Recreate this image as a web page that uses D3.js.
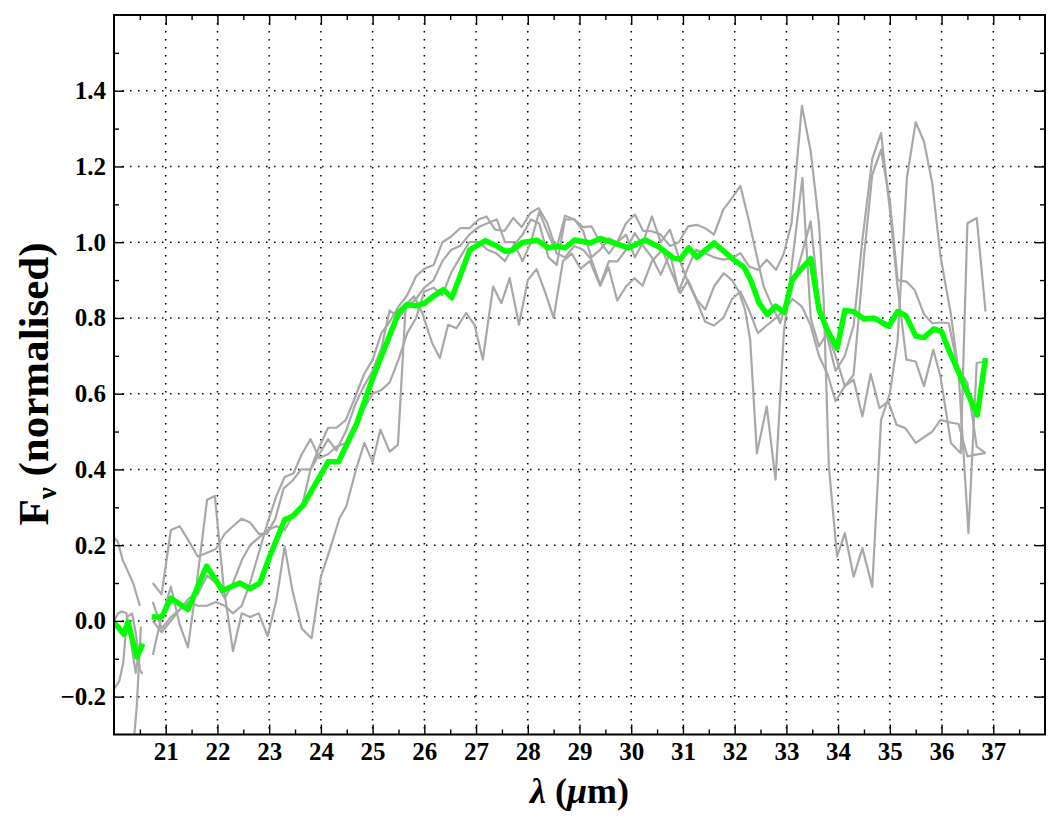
<!DOCTYPE html>
<html lang="en">
<head>
<meta charset="utf-8">
<title>Normalised spectra</title>
<script src="https://cdn.jsdelivr.net/npm/d3@7"></script>
<style>
  body { margin: 0; background: #fff; }
  text { font-family: "Liberation Serif", "DejaVu Serif", serif; font-weight: bold; fill: #000; }
</style>
</head>
<body>
<svg width="1060" height="827"></svg>
<script>
// tick positions
const xMajor = d3.range(21, 38);
const xMinor = d3.range(20.5, 38, 1);
const yMajor = [-0.2, 0, 0.2, 0.4, 0.6, 0.8, 1.0, 1.2, 1.4];
const yMinor = [-0.1, 0.1, 0.3, 0.5, 0.7, 0.9, 1.1, 1.3, 1.5];

// individual spectra [wavelength, flux]; null marks the gap in coverage
const spec1 = [[20.0,0.22],[20.07,0.21],[20.17,0.16],[20.27,0.13],[20.37,0.10],[20.5,0.04],[20.65,null],
  [20.75,0.10],[20.92,0.07],[21.1,0.24],[21.27,0.25],[21.45,0.21],[21.62,0.17],[21.8,0.18],[21.97,0.19],[22.14,0.23],[22.3,0.25],[22.47,0.27],[22.63,0.26],[22.8,0.23],[22.96,0.23],[23.12,0.27],[23.28,0.35],[23.45,0.37],[23.62,0.40],[23.8,0.40],[23.97,0.46],[24.14,0.51],[24.3,0.51],[24.48,0.53],[24.66,0.59],[24.83,0.65],[25.0,0.69],[25.17,0.76],[25.33,0.79],[25.5,0.83],[25.67,0.86],[25.84,0.91],[26.0,0.93],[26.18,0.94],[26.35,1.0],[26.52,1.015],[26.69,1.037],[26.87,1.037],[27.05,1.06],[27.2,1.068],[27.37,1.033],[27.55,1.03],[27.72,1.064],[27.88,1.04],[28.05,1.077],[28.21,1.09],[28.38,1.05],[28.55,0.98],[28.72,1.07],[28.9,1.06],[29.07,1.04],[29.23,1.042],[29.4,1.0],[29.57,0.97],[29.73,1.0],[29.9,1.05],[30.07,1.073],[30.23,1.03],[30.4,1.029],[30.57,1.02],[30.75,0.99],[30.92,1.0],[31.1,1.042],[31.27,1.046],[31.43,1.037],[31.6,1.02],[31.78,1.086],[31.95,1.117],[32.11,1.149],[32.27,1.06],[32.4,0.98],[32.56,0.883],[32.73,0.83],[32.88,0.786],[33.05,0.87],[33.22,0.93],[33.47,1.055],[33.63,0.84],[33.79,0.75],[33.95,0.66],[34.13,0.70],[34.3,0.78],[34.47,1.007],[34.66,1.22],[34.83,1.288],[35.0,1.086],[35.15,0.883],[35.32,0.69],[35.5,0.685],[35.66,0.62],[35.84,0.716],[35.98,0.645],[36.18,0.47],[36.37,0.443],[36.5,1.05],[36.68,1.064],[36.85,0.817]];

const spec2 = [[20.0,-0.18],[20.1,-0.16],[20.18,-0.11],[20.25,0.01],[20.35,0.02],[20.43,-0.04],[20.5,-0.13],[20.55,-0.14],[20.65,null],
  [20.75,-0.09],[20.9,0.0],[21.1,0.09],[21.27,-0.01],[21.43,-0.07],[21.6,0.10],[21.8,0.32],[21.95,0.33],[22.12,0.09],[22.3,-0.08],[22.47,0.02],[22.63,0.01],[22.8,0.02],[22.97,-0.04],[23.14,0.055],[23.3,0.196],[23.45,0.08],[23.63,-0.02],[23.82,-0.046],[24.0,0.117],[24.17,0.187],[24.36,0.271],[24.49,0.302],[24.68,0.40],[24.84,0.47],[25.0,0.42],[25.15,0.505],[25.33,0.447],[25.49,0.465],[25.64,0.835],[25.8,0.857],[25.96,0.813],[26.15,0.734],[26.3,0.694],[26.46,0.782],[26.62,0.773],[26.81,0.813],[26.97,0.782],[27.13,0.69],[27.33,0.883],[27.49,0.839],[27.65,0.905],[27.83,0.782],[28.0,0.9],[28.17,0.929],[28.33,0.87],[28.5,0.80],[28.68,0.95],[28.85,0.97],[29.02,0.93],[29.2,0.95],[29.4,0.885],[29.56,0.934],[29.73,0.846],[29.9,0.883],[30.06,0.905],[30.22,0.885],[30.4,0.95],[30.6,0.98],[30.78,0.92],[30.95,0.866],[31.1,0.9],[31.27,0.848],[31.43,0.822],[31.6,0.883],[31.79,0.918],[31.95,0.9],[32.08,0.87],[32.2,0.822],[32.3,0.742],[32.43,0.443],[32.62,0.566],[32.79,0.373],[32.95,0.76],[33.14,0.98],[33.31,1.17],[33.47,0.80],[33.63,0.725],[33.79,0.76],[33.95,0.70],[34.13,0.62],[34.3,0.65],[34.5,0.962],[34.66,1.178],[34.83,1.244],[35.0,1.11],[35.15,0.9],[35.32,0.896],[35.48,0.874],[35.66,0.81],[35.82,0.786],[36.0,0.788],[36.14,0.786],[36.31,0.672],[36.5,0.628],[36.68,0.46],[36.85,0.443]];

const spec3 = [[20.0,0.0],[20.08,0.02],[20.15,0.025],[20.24,0.02],[20.31,-0.04],[20.42,-0.137],[20.5,-0.06],[20.65,null],
  [20.75,0.0],[20.92,-0.03],[21.1,0.0],[21.27,0.03],[21.45,0.06],[21.62,0.07],[21.8,0.12],[21.97,0.10],[22.14,0.06],[22.3,0.10],[22.47,0.16],[22.63,0.20],[22.8,0.22],[22.97,0.24],[23.14,0.25],[23.3,0.24],[23.47,0.28],[23.63,0.30],[23.8,0.40],[23.97,0.44],[24.14,0.48],[24.3,0.45],[24.48,0.50],[24.66,0.57],[24.83,0.62],[25.0,0.66],[25.17,0.72],[25.33,0.82],[25.5,0.80],[25.67,0.83],[25.84,0.85],[26.0,0.88],[26.18,0.90],[26.35,0.95],[26.52,0.98],[26.69,0.99],[26.87,1.02],[27.05,1.04],[27.22,1.05],[27.4,1.06],[27.56,1.00],[27.72,1.00],[27.9,0.95],[28.06,1.0],[28.22,1.08],[28.4,1.02],[28.56,0.97],[28.72,0.96],[28.9,0.99],[29.07,0.98],[29.23,0.954],[29.4,0.888],[29.57,0.95],[29.73,0.949],[29.9,0.98],[30.07,1.024],[30.23,0.99],[30.4,0.96],[30.57,0.914],[30.75,0.97],[30.92,0.87],[31.08,0.927],[31.25,0.98],[31.43,0.971],[31.6,0.96],[31.78,0.954],[31.95,0.958],[32.11,0.971],[32.28,0.936],[32.45,0.927],[32.62,0.954],[32.8,0.927],[32.95,0.97],[33.1,1.05],[33.3,1.36],[33.47,1.24],[33.63,1.05],[33.72,0.85],[33.82,0.41],[33.98,0.17],[34.13,0.232],[34.3,0.117],[34.47,0.192],[34.66,0.09],[34.83,0.53],[35.0,0.60],[35.15,0.74],[35.33,1.17],[35.5,1.317],[35.66,1.266],[35.82,1.156],[35.98,0.962],[36.18,0.81],[36.33,0.654],[36.52,0.232],[36.68,0.681],[36.85,0.685]];

const spec4 = [[20.3,-0.45],[20.44,-0.226],[20.52,-0.015],[20.65,null],
  [20.75,0.05],[20.92,-0.02],[21.1,0.01],[21.27,0.03],[21.45,0.05],[21.62,0.04],[21.8,0.04],[21.97,0.05],[22.14,0.04],[22.3,0.02],[22.47,0.04],[22.63,0.10],[22.8,0.18],[22.97,0.26],[23.14,0.33],[23.3,0.38],[23.47,0.39],[23.63,0.44],[23.8,0.48],[23.97,0.43],[24.14,0.44],[24.3,0.46],[24.48,0.47],[24.66,0.52],[24.83,0.56],[25.0,0.60],[25.17,0.61],[25.33,0.63],[25.5,0.69],[25.67,0.76],[25.84,0.80],[26.0,0.87],[26.18,0.88],[26.35,0.86],[26.52,0.92],[26.69,0.96],[26.87,1.0],[27.05,1.0],[27.22,0.98],[27.4,0.97],[27.56,0.95],[27.72,0.99],[27.9,1.02],[28.06,1.06],[28.22,1.05],[28.4,0.96],[28.56,0.94],[28.72,1.06],[28.9,1.06],[29.07,1.03],[29.23,0.96],[29.4,0.98],[29.57,1.01],[29.73,1.00],[29.9,1.02],[30.07,0.96],[30.23,1.0],[30.4,1.068],[30.57,1.0],[30.75,1.033],[30.92,0.96],[31.08,0.90],[31.25,0.85],[31.43,0.79],[31.6,0.78],[31.78,0.80],[31.95,0.85],[32.11,0.87],[32.28,0.82],[32.45,0.76],[32.62,0.78],[32.8,0.80],[32.95,0.82],[33.12,0.85],[33.3,0.83],[33.47,0.78],[33.63,0.70],[33.8,0.65],[33.95,0.58],[34.13,0.62],[34.3,0.637],[34.47,0.54],[34.63,0.652],[34.8,0.562],[34.97,0.579],[35.13,0.518],[35.3,0.509],[35.5,0.47],[35.66,0.485],[35.82,0.5],[35.98,0.531],[36.17,0.524],[36.33,0.52],[36.5,0.434],[36.66,0.439],[36.85,0.443]];

// mean spectrum
const meanSpec = [[20.0,-0.005],[20.1,-0.02],[20.19,-0.035],[20.27,-0.003],[20.44,-0.095],[20.56,-0.06],[20.65,null],
  [20.73,0.01],[20.92,0.01],[21.10,0.06],[21.43,0.03],[21.79,0.145],[22.10,0.08],[22.43,0.10],[22.63,0.085],[22.82,0.10],[23.01,0.17],[23.30,0.267],[23.46,0.277],[23.66,0.306],[24.14,0.42],[24.34,0.42],[24.69,0.52],[25.0,0.64],[25.27,0.734],[25.50,0.813],[25.66,0.835],[25.85,0.832],[26.01,0.839],[26.17,0.857],[26.37,0.875],[26.53,0.853],[26.69,0.91],[26.88,0.98],[27.18,1.004],[27.40,0.99],[27.56,0.976],[27.69,0.978],[27.89,0.999],[28.18,1.005],[28.40,0.985],[28.56,0.99],[28.72,0.985],[28.91,1.006],[29.21,0.998],[29.40,1.01],[29.66,0.998],[29.95,0.985],[30.27,1.006],[30.53,0.988],[30.82,0.958],[30.95,0.955],[31.11,0.985],[31.27,0.96],[31.60,0.998],[31.98,0.954],[32.18,0.934],[32.31,0.90],[32.47,0.84],[32.63,0.809],[32.79,0.831],[32.96,0.815],[33.11,0.90],[33.24,0.922],[33.47,0.957],[33.63,0.822],[33.79,0.769],[33.98,0.72],[34.13,0.82],[34.30,0.817],[34.50,0.797],[34.69,0.80],[34.98,0.778],[35.15,0.817],[35.31,0.806],[35.50,0.752],[35.66,0.748],[35.85,0.771],[36.00,0.764],[36.14,0.715],[36.31,0.663],[36.50,0.602],[36.69,0.544],[36.85,0.694]];

const spectra = [spec1, spec2, spec3, spec4];

const svg = d3.select("svg");
const plotLeft = 114, plotRight = 1045, plotTop = 15, plotBottom = 734.5;

const x = d3.scaleLinear().domain([20, 38]).range([plotLeft, plotRight]);
const y = d3.scaleLinear().domain([-0.3, 1.6]).range([plotBottom, plotTop]);

svg.append("defs").append("clipPath").attr("id", "plotArea")
  .append("rect").attr("x", plotLeft).attr("y", plotTop)
  .attr("width", plotRight - plotLeft).attr("height", plotBottom - plotTop);

// dotted grid
const grid = svg.append("g").attr("stroke", "#000").attr("stroke-width", 1.5)
  .attr("stroke-dasharray", "1.5,6.5");
grid.selectAll(".vg").data(xMajor).enter().append("line")
  .attr("x1", d => x(d)).attr("x2", d => x(d)).attr("y1", plotTop).attr("y2", plotBottom);
grid.selectAll(".hg").data(yMajor).enter().append("line")
  .attr("x1", plotLeft).attr("x2", plotRight).attr("y1", d => y(d)).attr("y2", d => y(d));

// spectra
const line = d3.line()
  .defined(d => d[1] !== null)
  .x(d => x(d[0]))
  .y(d => y(d[1]));

const plot = svg.append("g").attr("clip-path", "url(#plotArea)");
plot.selectAll(".spec").data(spectra).enter().append("path")
  .attr("d", line)
  .attr("fill", "none")
  .attr("stroke", "#a8a8a8")
  .attr("stroke-width", 2.2)
  .attr("stroke-linejoin", "round");

plot.append("path")
  .attr("d", line(meanSpec))
  .attr("fill", "none")
  .attr("stroke", "#00ff00")
  .attr("stroke-width", 5.5)
  .attr("stroke-linejoin", "round");

// axes with inward ticks
function styleAxis(g) {
  g.select(".domain").remove();
  g.selectAll(".tick line").attr("stroke", "#000").attr("stroke-width", 1.4);
  g.selectAll("text").attr("font-size", 25).attr("font-family", null);
}

svg.append("g").attr("transform", `translate(0,${plotBottom})`)
  .call(d3.axisBottom(x).tickValues(xMajor).tickSize(-10).tickPadding(8).tickFormat(d3.format("d")))
  .call(styleAxis);
svg.append("g").attr("transform", `translate(0,${plotBottom})`)
  .call(d3.axisBottom(x).tickValues(xMinor).tickSize(-5).tickFormat(""))
  .call(styleAxis);
svg.append("g").attr("transform", `translate(0,${plotTop})`)
  .call(d3.axisTop(x).tickValues(xMajor).tickSize(-10).tickFormat(""))
  .call(styleAxis);
svg.append("g").attr("transform", `translate(0,${plotTop})`)
  .call(d3.axisTop(x).tickValues(xMinor).tickSize(-5).tickFormat(""))
  .call(styleAxis);

svg.append("g").attr("transform", `translate(${plotLeft},0)`)
  .call(d3.axisLeft(y).tickValues(yMajor).tickSize(-10).tickPadding(8).tickFormat(d3.format(".1f")))
  .call(styleAxis);
svg.append("g").attr("transform", `translate(${plotLeft},0)`)
  .call(d3.axisLeft(y).tickValues(yMinor).tickSize(-5).tickFormat(""))
  .call(styleAxis);
svg.append("g").attr("transform", `translate(${plotRight},0)`)
  .call(d3.axisRight(y).tickValues(yMajor).tickSize(-10).tickFormat(""))
  .call(styleAxis);
svg.append("g").attr("transform", `translate(${plotRight},0)`)
  .call(d3.axisRight(y).tickValues(yMinor).tickSize(-5).tickFormat(""))
  .call(styleAxis);

// frame
svg.append("rect")
  .attr("x", plotLeft).attr("y", plotTop)
  .attr("width", plotRight - plotLeft).attr("height", plotBottom - plotTop)
  .attr("fill", "none").attr("stroke", "#000").attr("stroke-width", 2);

// axis titles
const xt = svg.append("text")
  .attr("x", (plotLeft + plotRight) / 2).attr("y", 803)
  .attr("text-anchor", "middle").attr("font-size", 36);
xt.append("tspan").attr("font-style", "italic").text("λ");
xt.append("tspan").text(" (");
xt.append("tspan").attr("font-style", "italic").text("μ");
xt.append("tspan").text("m)");

const yt = svg.append("text")
  .attr("transform", `translate(48,384) rotate(-90)`)
  .attr("text-anchor", "middle").attr("font-size", 43);
yt.append("tspan").text("F");
yt.append("tspan").attr("font-size", 27).attr("dy", 8).text("ν");
yt.append("tspan").attr("dy", -8).text(" (normalised)");
</script>
</body>
</html>
